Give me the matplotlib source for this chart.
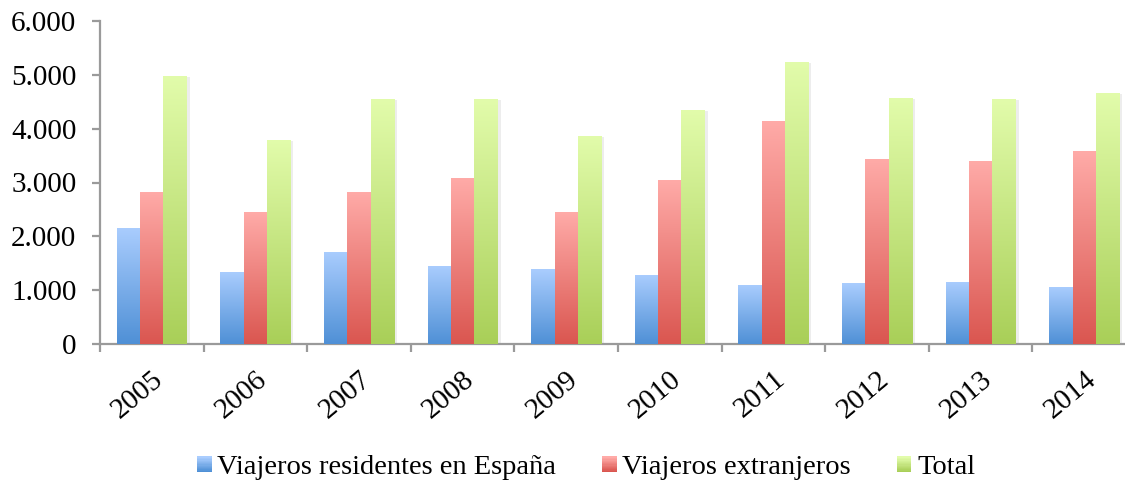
import numpy as np
import matplotlib
matplotlib.use("Agg")
import matplotlib.pyplot as plt
from matplotlib.patches import Rectangle
from matplotlib.colors import LinearSegmentedColormap, to_rgb
from matplotlib.legend_handler import HandlerBase

years = ['2005', '2006', '2007', '2008', '2009', '2010', '2011', '2012', '2013', '2014']
residentes = [2155, 1338, 1709, 1449, 1393, 1282, 1096, 1133, 1152, 1059]
extranjeros = [2824, 2452, 2824, 3084, 2452, 3047, 4143, 3437, 3400, 3585]
total = [4979, 3790, 4551, 4551, 3864, 4347, 5239, 4570, 4551, 4663]
series_names = ['Viajeros residentes en España', 'Viajeros extranjeros', 'Total']

# (top colour, bottom colour) for the gradients
grads = [('#aacdfe', '#4f90d6'), ('#ffaba8', '#da5650'), ('#e2fcab', '#a9cf58')]

plt.rcParams['font.family'] = ['Liberation Serif', 'DejaVu Serif']

fig = plt.figure(figsize=(11.25, 4.83), dpi=100)
ax = fig.add_axes([100 / 1125, 1 - 344 / 483, 1036 / 1125, 323 / 483])

x = np.arange(len(years))
bw = 0.225
grad_img = np.linspace(0, 1, 256).reshape(-1, 1)

for i, vals in enumerate([residentes, extranjeros, total]):
    top, bot = grads[i]
    cmap = LinearSegmentedColormap.from_list('g%d' % i, [bot, top])
    bars = ax.bar(x + (i - 1) * bw, vals, bw, color='none', edgecolor='none', zorder=3)
    for b in bars:
        bx, by, w, h = b.get_x(), b.get_y(), b.get_width(), b.get_height()
        # soft shadow
        ax.add_patch(Rectangle((bx + 0.03, by), w, h - 25, facecolor='#000000',
                               alpha=0.07, edgecolor='none', zorder=2))
        im = ax.imshow(grad_img, cmap=cmap, aspect='auto', origin='lower',
                       extent=(bx, bx + w, by, by + h), zorder=3)
        im.set_clip_path(b)

ax.set_xlim(-0.5, len(years) - 0.5)
ax.set_ylim(0, 6000)

ax.set_yticks(range(0, 6001, 1000))
ax.set_yticklabels([f'{v:,}'.replace(',', '.') for v in range(0, 6001, 1000)])
ax.set_xticks(np.arange(-0.5, len(years), 1.0))
ax.set_xticklabels([])
ax.set_xticks(x, minor=True)
ax.set_xticklabels(years, minor=True, rotation=40, ha='right', va='top',
                   rotation_mode='anchor')

axis_col = '#9a9a9a'
for s in ['top', 'right']:
    ax.spines[s].set_visible(False)
for s in ['left', 'bottom']:
    ax.spines[s].set_color(axis_col)
    ax.spines[s].set_linewidth(1.6)
ax.tick_params(axis='y', direction='out', length=6, width=1.6, color=axis_col,
               pad=11, labelsize=21)
ax.tick_params(axis='x', which='major', direction='out', length=5.5, width=1.6, color=axis_col)
ax.tick_params(axis='x', which='minor', length=0, pad=16, labelsize=21)
ax.set_facecolor('none')


class GradHandler(HandlerBase):
    def create_artists(self, legend, orig_handle, xdescent, ydescent, width, height, fontsize, trans):
        top, bot = orig_handle
        n = 12
        arts = []
        for k in range(n):
            f = k / (n - 1)
            c = tuple(np.array(to_rgb(bot)) * (1 - f) + np.array(to_rgb(top)) * f)
            arts.append(Rectangle((-xdescent, -ydescent + height * k / n), width, height / n + 0.3,
                                  facecolor=c, edgecolor='none', transform=trans))
        return arts


handles = [tuple(g) for g in grads]
fig.legend(handles, series_names, handler_map={tuple: GradHandler()},
           loc='center', bbox_to_anchor=(586 / 1125, 1 - 468 / 483), ncol=3, frameon=False,
           fontsize=20.5, handlelength=0.52, handleheight=0.45, handletextpad=0.2,
           columnspacing=1.6, borderaxespad=0)

fig.savefig('out.png', dpi=100)
